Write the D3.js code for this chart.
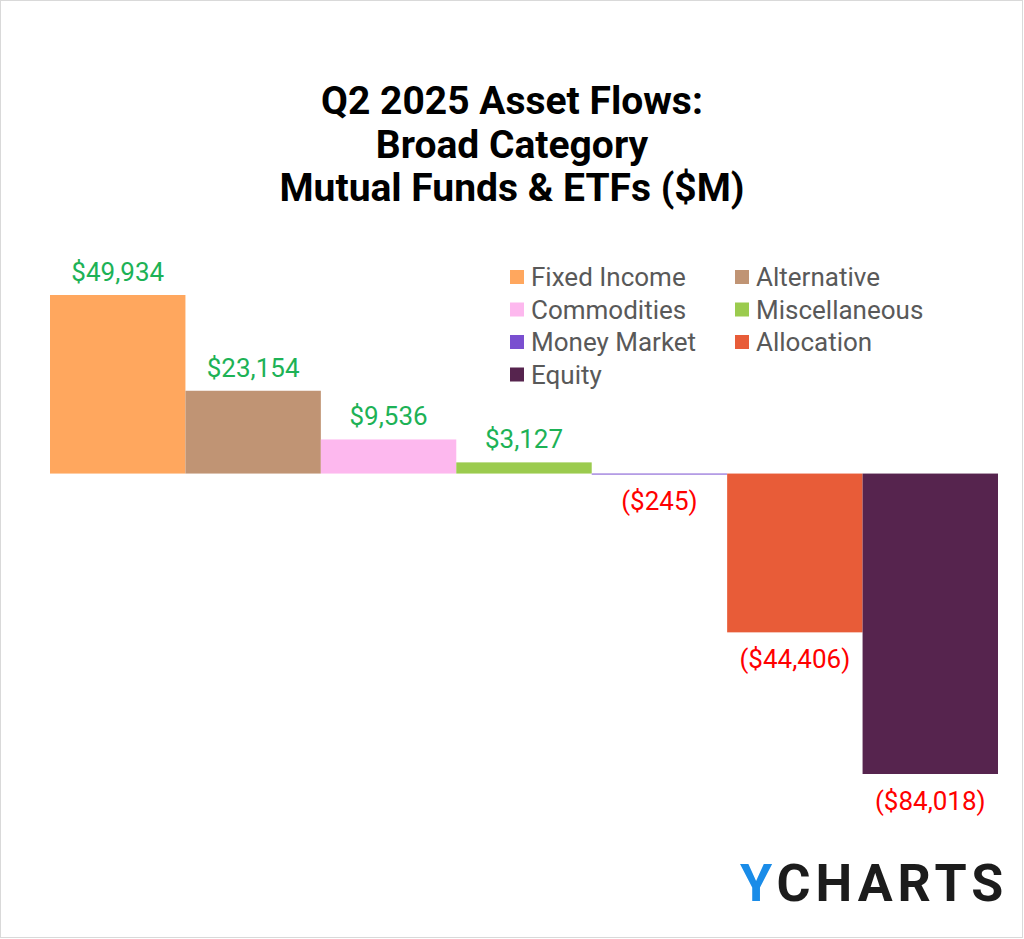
<!DOCTYPE html>
<html><head><meta charset="utf-8">
<script src="https://d3js.org/d3.v7.min.js"></script>
<style>body{margin:0;background:#fff}</style></head>
<body><script>
const categories=["Fixed Income","Alternative","Commodities","Miscellaneous","Money Market","Allocation","Equity"];
const values=[49934,23154,9536,3127,-245,-44406,-84018];
const labels=["$49,934","$23,154","$9,536","$3,127","($245)","($44,406)","($84,018)"];
const colors=["#FFA75E","#C09474","#FDB8EE","#9BCB4E","#7A4FD0","#E85C38","#56244E"];
const W=1024,H=939;
const svg=d3.select("body").append("svg").attr("width",W).attr("height",H);
svg.append("rect").attr("x",0.5).attr("y",0.5).attr("width",W-2).attr("height",H-2).attr("fill","#fff").attr("stroke","#d9d9d9");
const x=d3.scaleBand().domain(categories).range([50,998]).padding(0);
const y=d3.scaleLinear().domain([-84018,49934]).range([774,295]);
const ff="Roboto, sans-serif";
["Q2 2025 Asset Flows:","Broad Category","Mutual Funds & ETFs ($M)"].forEach((t,i)=>
 svg.append("text").attr("x",512).attr("y",114+i*43.5).attr("text-anchor","middle").attr("font-family",ff).attr("font-weight","bold").attr("font-size",39).attr("fill","#000").text(t));
svg.selectAll("rect.bar").data(values).join("rect").attr("class","bar")
 .attr("x",(d,i)=>x(categories[i])).attr("width",x.bandwidth())
 .attr("y",d=>y(Math.max(0,d))).attr("height",d=>Math.max(1,Math.abs(y(d)-y(0))))
 .attr("fill",(d,i)=>colors[i]);
svg.selectAll("text.lab").data(values).join("text").attr("class","lab")
 .attr("x",(d,i)=>x(categories[i])+x.bandwidth()/2)
 .attr("y",d=>d>=0?y(d)-14:Math.max(y(d),y(0))+36)
 .attr("text-anchor","middle").attr("font-family",ff).attr("font-size",26)
 .attr("fill",d=>d>=0?"#1DB256":"#FF0000").text((d,i)=>labels[i]);
categories.forEach((c,i)=>{
 const col=i%2,row=Math.floor(i/2);
 const lx=510+col*225,ly=277+row*32.5;
 svg.append("rect").attr("x",lx).attr("y",ly-7).attr("width",14).attr("height",14).attr("fill",colors[i]);
 svg.append("text").attr("x",lx+21).attr("y",ly+9).attr("font-family",ff).attr("font-size",26).attr("fill","#595959").text(c);
});
const logo=svg.append("text").attr("x",740).attr("y",901).attr("font-family",ff).attr("font-weight","bold").attr("font-size",52).attr("letter-spacing",5);
logo.append("tspan").attr("fill","#1A8CE8").text("Y");
logo.append("tspan").attr("fill","#1c1c1c").text("CHARTS");
</script></body></html>
